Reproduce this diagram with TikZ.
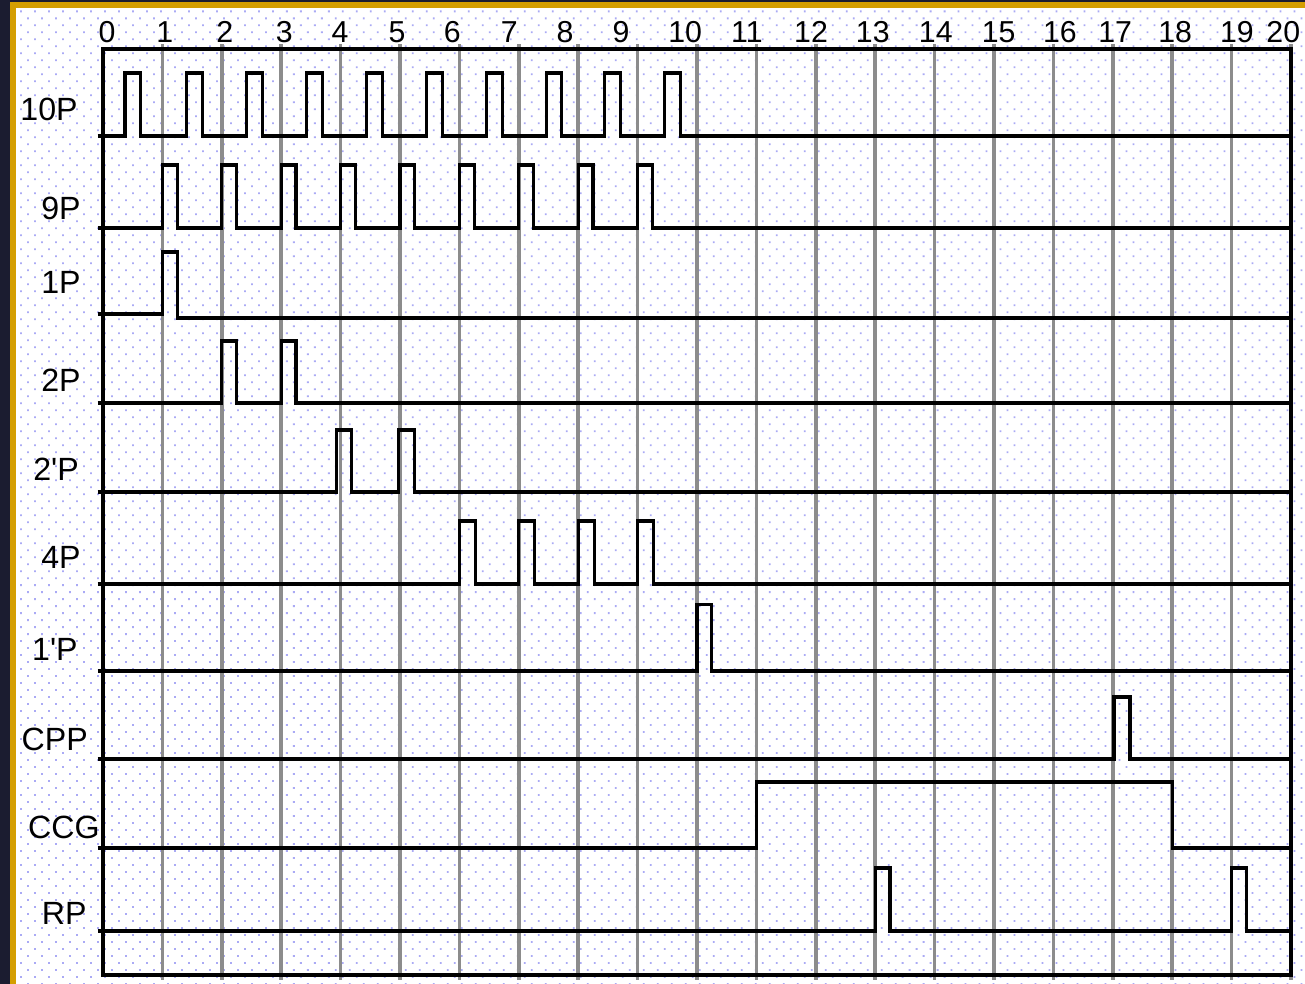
\documentclass[tikz,border=0pt]{standalone}
\usepackage{fontspec}
\setmainfont{Liberation Sans}
\usepackage{tikz}
\usetikzlibrary{patterns.meta}
\definecolor{chartNavy}{RGB}{27,28,48}
\definecolor{chartGold}{RGB}{212,158,0}
\definecolor{chartDot}{RGB}{170,170,245}
\definecolor{chartGrid}{RGB}{140,140,140}
\tikzset{
  sig/.style={black, line width=1.5pt},
  gridline/.style={chartGrid, line width=1.7pt},
  rowlabel/.style={anchor=east, inner sep=0pt, font=\fontsize{15.4}{18}\selectfont},
  ticklabel/.style={inner sep=0pt, font=\fontsize{14.5}{17}\selectfont}
}
% base, top, pulse width, pulse starts
\newcommand{\pulserow}[4]{%
  \draw[sig] (-0.09,#1) \foreach \t in {#4} {-- (\t,#1) -- (\t,#2) -- ({\t+#3},#2) -- ({\t+#3},#1)} -- (20,#1);
}

\begin{document}
\begin{tikzpicture}
\useasboundingbox (-1.734,-0.1515) rectangle (20.236,16.414);

% paper
\fill[chartNavy] (-1.734,-0.1515) rectangle (20.236,16.414);
\fill[chartGold] (-1.566,-0.1515) rectangle (20.236,16.380);
\fill[white] (-1.465,-0.1515) rectangle (20.236,16.279);
\path[pattern={Dots[radius=0.6pt,distance=4.74pt,angle=45]}, pattern color=chartDot]
  (-1.465,-0.1515) rectangle (20.236,16.279);

% time grid
\foreach \i in {1,...,20}
  \draw[gridline] (\i,-0.084) -- (\i,15.673);
\draw[sig] (0,0) rectangle (20,15.589);

\foreach \n/\x in {0/0.07,1/1.04,2/2.05,3/3.05,4/3.99,5/4.95,6/5.88,7/6.84,8/7.78,9/8.72,
  10/9.80,11/10.84,12/11.92,13/12.96,14/14.02,15/15.08,16/16.11,17/17.04,18/18.05,19/19.09,20/19.87}
  \node[ticklabel] (tick\n) at (\x,15.875) {\n};

% signals
\pulserow{14.125}{15.185}{0.26}{0.37,1.41,2.42,3.43,4.44,5.45,6.46,7.46,8.45,9.46}
\pulserow{12.576}{13.636}{0.25}{1,2,3,4,5,6,7,8,9}
\draw[sig] (-0.09,11.128) -- (1,11.128) -- (1,12.172) -- (1.25,12.172) -- (1.25,11.06) -- (20,11.06);
\pulserow{9.630}{10.673}{0.25}{2,3}
\pulserow{8.131}{9.175}{0.26}{3.93,4.98}
\pulserow{6.582}{7.643}{0.27}{6,7,8,9}
\pulserow{5.118}{6.23}{0.25}{10}
\pulserow{3.636}{4.680}{0.27}{17.02}
\draw[sig] (-0.09,2.138) -- (11,2.138) -- (11,3.249) -- (18,3.249) -- (18,2.138) -- (20,2.138);
\pulserow{0.741}{1.801}{0.25}{13,19}

\node[rowlabel] (l10P) at (-0.42,14.579) {10P};
\node[rowlabel] (l9P) at (-0.37,12.912) {9P};
\node[rowlabel] (l1P) at (-0.37,11.667) {1P};
\node[rowlabel] (l2P) at (-0.37,10.017) {2P};
\node[rowlabel] (l2pP) at (-0.40,8.519) {2\textquotesingle P};
\node[rowlabel] (l4P) at (-0.37,7.037) {4P};
\node[rowlabel] (l1pP) at (-0.42,5.488) {1\textquotesingle P};
\node[rowlabel] (lCPP) at (-0.25,3.973) {CPP};
\node[rowlabel] (lCCG) at (-0.05,2.492) {CCG};
\node[rowlabel] (lRP) at (-0.27,1.044) {RP};
\end{tikzpicture}
\end{document}
